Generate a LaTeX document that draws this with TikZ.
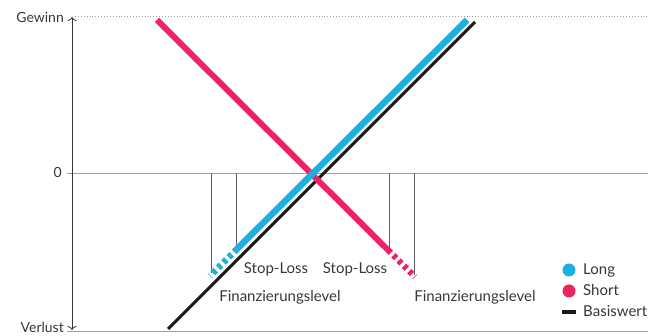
\documentclass[tikz,border=0pt]{standalone}
\usepackage{fontspec}
\setmainfont{Lato}
\usetikzlibrary{arrows.meta}
\definecolor{cblue}{RGB}{27,176,222}
\definecolor{cpink}{RGB}{235,36,98}
\definecolor{cblack}{RGB}{26,26,26}
\definecolor{cgray}{RGB}{160,160,160}
\definecolor{ctext}{RGB}{55,55,55}
\tikzset{
  lbl/.style={font=\fontsize{14}{16}\selectfont, text=ctext, inner sep=0pt},
  wlbl/.style={lbl, font=\fontsize{15}{17}\selectfont},
  guide/.style={draw=cgray, line width=0.9pt},
  thin/.style={draw=ctext!80, line width=0.7pt},
  longl/.style={draw=cblue, line width=6.5pt},
  shortl/.style={draw=cpink, line width=6pt},
  dashpart/.style={dash pattern=on 4pt off 3.5pt},
}
\begin{document}
\begin{tikzpicture}[x=1pt,y=1pt]
\useasboundingbox (0,0) rectangle (648,336);
% coordinates (y = 336 - pixel y)
\coordinate (axtop) at (72,319);
\coordinate (axbot) at (72,6);
\coordinate (zeroL) at (67,163);
\coordinate (zeroR) at (648,163);
\coordinate (topL) at (75,319);
\coordinate (topR) at (648,319);
\coordinate (botL) at (67,5);
\coordinate (botR) at (648,5);
% guide lines
\draw[guide] (zeroL) -- (zeroR);
\draw[guide, dotted, line width=1pt] (topL) -- (topR);
\draw[guide] (botL) -- (botR);
% vertical helper lines
\coordinate (v1t) at (211,163); \coordinate (v1b) at (211,63);
\coordinate (v2t) at (236,163); \coordinate (v2b) at (236,88);
\coordinate (v3t) at (389,163); \coordinate (v3b) at (389,86);
\coordinate (v4t) at (414,163); \coordinate (v4b) at (414,61);
\draw[thin] (v1t) -- (v1b);
\draw[thin] (v2t) -- (v2b);
\draw[thin] (v3t) -- (v3b);
\draw[thin] (v4t) -- (v4b);
% axis
\draw[draw=ctext, line width=0.8pt, {To[length=4pt,width=9pt]}-{To[length=4pt,width=9pt]}] (axbot) -- (axtop);
% Basiswert
\coordinate (bwA) at (168,7);
\coordinate (bwB) at (475,314);
\draw[draw=cblack, line width=3pt] (bwA) -- (bwB);
% Short
\coordinate (shA) at (157,316);
\coordinate (shB) at (388,86);
\coordinate (shC) at (415,59);
\draw[shortl] (shA) -- (shB);
\draw[shortl, dashpart] (shB) -- (shC);
% Long
\coordinate (loA) at (467,316);
\coordinate (loB) at (237,87);
\coordinate (loC) at (210,60);
\draw[longl] (loA) -- (loB);
\draw[longl, dashpart] (loB) -- (loC);
% axis labels
\node[lbl, anchor=base east] (gewinn) at (64,313) {Gewinn};
\node[lbl, anchor=base east] (zero) at (62,158) {0};
\node[lbl, anchor=base east] (verlust) at (64,3) {Verlust};
% labels
\node[wlbl, anchor=base] (sl1) at (276,62) {Stop-Loss};
\node[wlbl, anchor=base] (sl2) at (355,62) {Stop-Loss};
\node[wlbl, anchor=base] (fl1) at (280,34) {Finanzierungslevel};
\node[wlbl, anchor=base] (fl2) at (475,34) {Finanzierungslevel};
% legend
\fill[cblue] (569,66) circle (6.5);
\fill[cpink] (569,45) circle (6.5);
\fill[cblack] (562,22) rectangle (576,26);
\node[wlbl, anchor=base west] (lg1) at (583,61) {Long};
\node[wlbl, anchor=base west] (lg2) at (583,40) {Short};
\node[wlbl, anchor=base west] (lg3) at (583,19) {Basiswert};
\end{tikzpicture}
\end{document}
